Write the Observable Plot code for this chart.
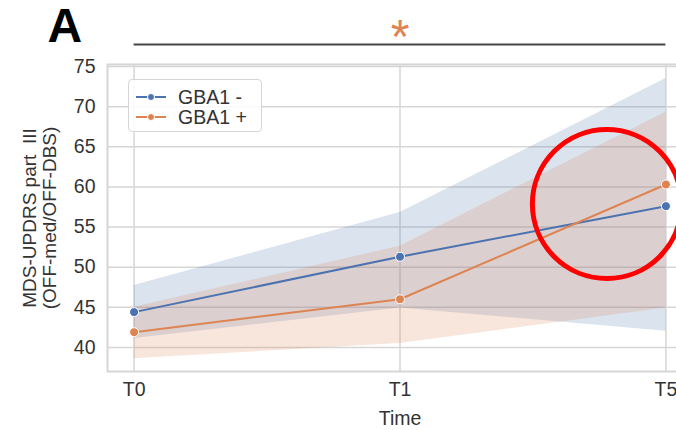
<!DOCTYPE html>
<html>
<head>
<meta charset="utf-8">
<script src="https://cdn.jsdelivr.net/npm/d3@7"></script>
<script src="https://cdn.jsdelivr.net/npm/@observablehq/plot@0.6"></script>
<style>
  html, body { margin: 0; padding: 0; background: #fff; }
  #wrap { position: relative; width: 676px; height: 430px; overflow: hidden; font-family: "Liberation Sans", Arial, sans-serif; }
  #wrap > svg { max-width: none !important; width: 692px !important; height: 430px !important; display: block; }
  #legend { position: absolute; left: 128px; top: 79px; width: 134px; height: 53px; border: 1px solid #d6d6d6; border-radius: 4px; background: rgba(255,255,255,0.85); box-sizing: border-box; }
  .row { position: absolute; left: 6px; height: 20px; display: flex; align-items: center; font-size: 19.5px; color: #333; }
  .row svg { margin-right: 11px; }
</style>
</head>
<body>
<div id="wrap"></div>
<script>
const times = ["T0", "T1", "T5"];
const timeIndex = [0, 1, 2];
const groups = ["GBA1 -", "GBA1 +"];
const colors = ["#4c72b0", "#dd8452"];

const gbaNegMean = [44.4, 51.3, 57.6];
const gbaNegLo   = [41.1, 44.9, 42.0];
const gbaNegHi   = [47.7, 56.8, 73.5];

const gbaPosMean = [41.9, 46.0, 60.3];
const gbaPosLo   = [38.6, 40.5, 44.9];
const gbaPosHi   = [45.0, 52.6, 69.3];

const yTicks = [40, 45, 50, 55, 60, 65, 70, 75];

// significance annotation (T0 to T5) and highlight circle
const bracket = [{x1: 0, x2: 2, y: 77.74}];
const star = [{x: 1, y: 80.95, label: "*"}];
const circleMark = [{x: 1.778, y: 57.87}];

const rows = [];
[[gbaNegMean, gbaNegLo, gbaNegHi], [gbaPosMean, gbaPosLo, gbaPosHi]].forEach(([m, lo, hi], g) => {
  timeIndex.forEach((t, i) => rows.push({group: groups[g], t, mean: m[i], lo: lo[i], hi: hi[i]}));
});
const byGroup = g => rows.filter(d => d.group === g);

const font = '"Liberation Sans", Arial, sans-serif';
const grid = "#d6d6d6";
const fs = 19.5;

const marks = [
  Plot.gridY(yTicks, {stroke: grid, strokeOpacity: 1, strokeWidth: 1.5}),
  Plot.gridX(timeIndex, {stroke: grid, strokeOpacity: 1, strokeWidth: 1.5}),
  Plot.frame({stroke: grid, strokeWidth: 2}),
];
groups.forEach((g, k) => {
  marks.push(Plot.areaY(byGroup(g), {x: "t", y1: "lo", y2: "hi", fill: colors[k], fillOpacity: 0.2}));
});
groups.forEach((g, k) => {
  marks.push(Plot.line(byGroup(g), {x: "t", y: "mean", stroke: colors[k], strokeWidth: 2}));
  marks.push(Plot.dot(byGroup(g), {x: "t", y: "mean", r: 4.5, fill: colors[k], stroke: "#fff", strokeWidth: 1}));
});
marks.push(
  Plot.axisY({ticks: yTicks, tickSize: 0, tickPadding: 12, fontSize: fs, fill: "#333", label: null}),
  Plot.axisX({ticks: timeIndex, tickFormat: i => times[i], tickSize: 0, tickPadding: 11, fontSize: fs, fill: "#333", label: null}),
  Plot.text(["Time"], {x: () => 1, frameAnchor: "bottom", dy: 47, lineAnchor: "middle", fontSize: fs, fill: "#333"}),
  Plot.text(["MDS-UPDRS part  III\n(OFF-med/OFF-DBS)"], {frameAnchor: "left", dx: -68, rotate: -90, textAnchor: "middle", lineAnchor: "middle", lineHeight: 1.03, fontSize: 19, fill: "#333"}),
  Plot.ruleY(bracket, {x1: "x1", x2: "x2", y: "y", stroke: "#444", strokeWidth: 2}),
  Plot.text(star, {x: "x", y: "y", text: "label", fill: "#dd8452", fontSize: 48, lineAnchor: "top"}),
  Plot.text(["A"], {frameAnchor: "top-left", dx: -60, dy: -57, textAnchor: "start", lineAnchor: "top", fontSize: 48, fontWeight: "bold", fill: "#000"}),
  Plot.dot(circleMark, {x: "x", y: "y", r: 74.5, stroke: "#ff0000", strokeWidth: 5, fill: "none"})
);

const chart = Plot.plot({
  width: 692,
  height: 430,
  marginLeft: 107,
  marginRight: 0,
  marginTop: 64,
  marginBottom: 59,
  style: {fontFamily: font, background: "#fff", overflow: "visible", maxWidth: "none"},
  x: {type: "linear", domain: [-0.1, 2.1], axis: null},
  y: {domain: [37, 75.25], axis: null},
  marks
});

const wrap = document.getElementById("wrap");
wrap.appendChild(chart);

const legend = document.createElement("div");
legend.id = "legend";
groups.forEach((g, k) => {
  const row = document.createElement("div");
  row.className = "row";
  row.style.top = (k === 0 ? 7 : 27) + "px";
  row.innerHTML = `<svg width="32" height="12"><line x1="1" y1="6" x2="31" y2="6" stroke="${colors[k]}" stroke-width="2"/><circle cx="16" cy="6" r="3.5" fill="${colors[k]}" stroke="#fff" stroke-width="1"/></svg><span>${g}</span>`;
  legend.appendChild(row);
});
wrap.appendChild(legend);
</script>
</body>
</html>
